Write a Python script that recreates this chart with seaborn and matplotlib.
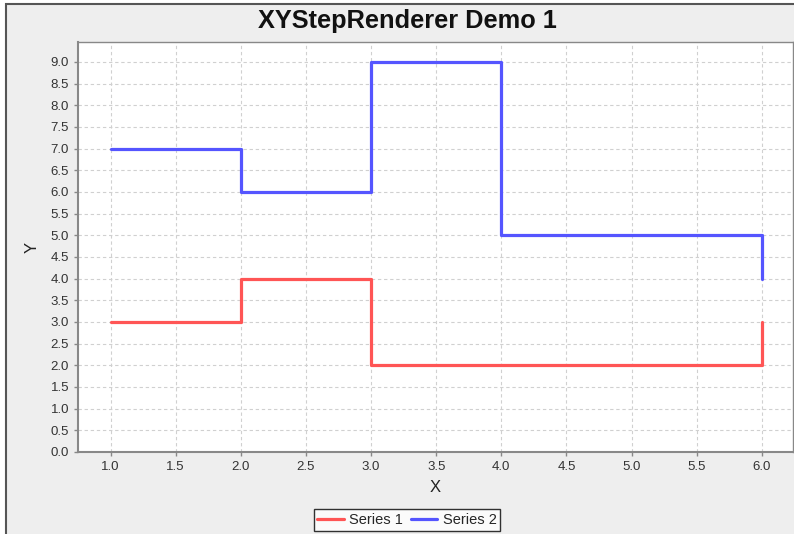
import numpy as np
import pandas as pd
import matplotlib
matplotlib.use("Agg")
import matplotlib.pyplot as plt
from matplotlib.patches import Rectangle
import seaborn as sns

# data
s1_x = [1.0, 2.0, 3.0, 6.0]
s1_y = [3.0, 4.0, 2.0, 3.0]
s2_x = [1.0, 2.0, 3.0, 4.0, 6.0]
s2_y = [7.0, 6.0, 9.0, 5.0, 4.0]
x_ticks = np.arange(1.0, 6.01, 0.5)
y_ticks = np.arange(0.0, 9.01, 0.5)

df = pd.concat([
    pd.DataFrame({"X": s1_x, "Y": s1_y, "series": "Series 1"}),
    pd.DataFrame({"X": s2_x, "Y": s2_y, "series": "Series 2"}),
], ignore_index=True)

sns.set_style("white")
plt.rcParams['font.family'] = ['Liberation Sans', 'DejaVu Sans']

W, H = 794, 534
fig = plt.figure(figsize=(W / 100, H / 100), dpi=100, facecolor="white")
# grey chart background with dark border (top/left visible)
fig.add_artist(Rectangle((6 / W, -0.05), 1.1, 1 - 4 / H + 0.05, transform=fig.transFigure,
                         facecolor="#EEEEEE", edgecolor="#555555", linewidth=1.5, zorder=-10))
ax = fig.add_axes([78 / W, 1 - 452 / H, (793 - 78) / W, (452 - 42) / H])

sns.lineplot(data=df, x="X", y="Y", hue="series", palette=["#FF5555", "#5555FF"],
             drawstyle="steps-post", linewidth=2.3, ax=ax, sort=False, estimator=None)

ax.set_xlim(0.75, 6.24)
ax.set_ylim(0, 9.46)
ax.set_xticks(x_ticks)
ax.set_yticks(y_ticks)
ax.set_xticklabels([f"{v:.1f}" for v in x_ticks])
ax.set_yticklabels([f"{v:.1f}" for v in y_ticks])
ax.tick_params(axis="both", labelsize=9.5, colors="#888888", labelcolor="#333333",
               length=3, width=1, direction="out", bottom=True, left=True)
ax.grid(True, linestyle=(0, (3, 2.5)), color="#D0D0D0", linewidth=0.8)
ax.set_axisbelow(True)
for sp in ax.spines.values():
    sp.set_color("#888888")
    sp.set_linewidth(1.0)
ax.spines["left"].set_linewidth(1.5)
ax.spines["bottom"].set_linewidth(1.5)

ax.set_xlabel("X", fontsize=12, color="#222222", labelpad=5)
ax.set_ylabel("Y", fontsize=12, color="#222222", labelpad=8)
fig.text(407 / W, 1 - 21 / H, "XYStepRenderer Demo 1", ha="center", va="center",
         fontsize=18.3, fontweight="bold", color="#111111")

leg = ax.legend(loc="center", bbox_to_anchor=(407 / W, 1 - 520 / H), bbox_transform=fig.transFigure,
                ncol=2, frameon=True, fancybox=False, fontsize=10.5, handlelength=1.8,
                handletextpad=0.4, columnspacing=0.5, borderpad=0.25, title=None)
leg.get_frame().set_edgecolor("black")
leg.get_frame().set_linewidth(1.0)

fig.savefig("out.png", dpi=100, facecolor=fig.get_facecolor())
